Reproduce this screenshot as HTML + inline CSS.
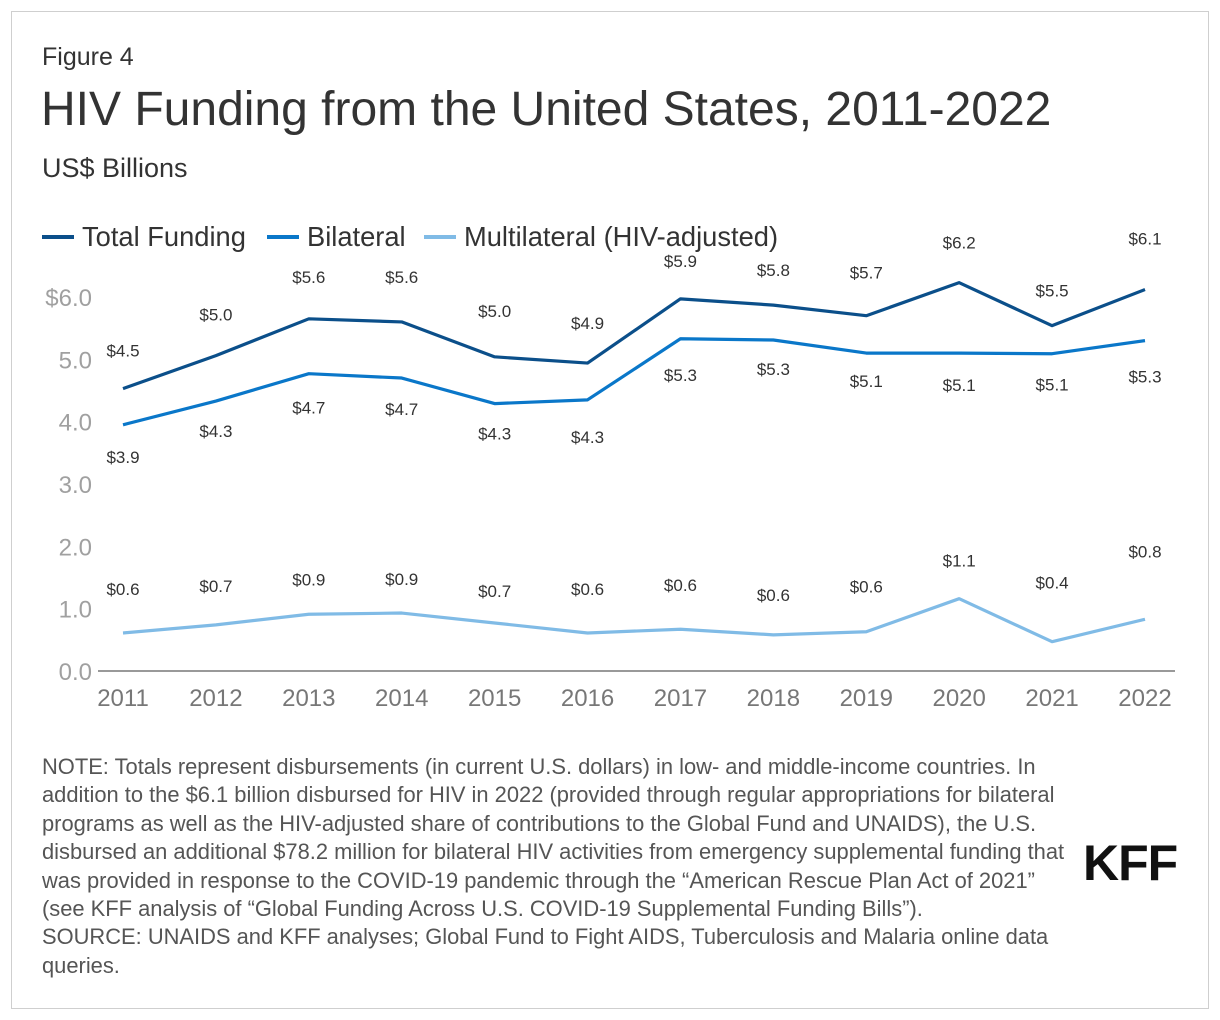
<!DOCTYPE html>
<html><head><meta charset="utf-8"><style>
body{margin:0;background:#fff;font-family:"Liberation Sans",Arial,sans-serif;}
#frame{position:absolute;left:11px;top:11px;width:1196px;height:996px;border:1px solid #cfcfcf;}
.t{position:absolute;color:#333;white-space:nowrap;}
</style></head><body>
<div id="frame"></div>
<div class="t" style="left:42px;top:43px;font-size:25px;">Figure 4</div>
<div class="t" style="left:41px;top:82px;font-size:48px;">HIV Funding from the United States, 2011-2022</div>
<div class="t" style="left:42px;top:153px;font-size:27px;">US$ Billions</div>
<svg id="chart" width="1220" height="1020" style="position:absolute;left:0;top:0"></svg>
<div class="t" style="left:42px;top:753px;font-size:21.9px;line-height:28.4px;color:#555;">NOTE: Totals represent disbursements (in current U.S. dollars) in low- and middle-income countries. In<br>addition to the $6.1 billion disbursed for HIV in 2022 (provided through regular appropriations for bilateral<br>programs as well as the HIV-adjusted share of contributions to the Global Fund and UNAIDS), the U.S.<br>disbursed an additional $78.2 million for bilateral HIV activities from emergency supplemental funding that<br>was provided in response to the COVID-19 pandemic through the “American Rescue Plan Act of 2021”<br>(see KFF analysis of “Global Funding Across U.S. COVID-19 Supplemental Funding Bills”).<br>SOURCE: UNAIDS and KFF analyses; Global Fund to Fight AIDS, Tuberculosis and Malaria online data<br>queries.</div>
<div class="t" style="left:1083px;top:834px;font-size:50px;font-weight:900;color:#111;letter-spacing:-1px;">KFF</div>
<script>
const years=[2011,2012,2013,2014,2015,2016,2017,2018,2019,2020,2021,2022];
const total=[4.53,5.06,5.65,5.6,5.04,4.94,5.97,5.87,5.7,6.23,5.54,6.12];
const bilateral=[3.95,4.33,4.77,4.7,4.29,4.35,5.33,5.31,5.1,5.1,5.09,5.3];
const multilateral=[0.61,0.74,0.91,0.93,0.77,0.61,0.67,0.58,0.63,1.16,0.47,0.83];
const totalLabels=["$4.5","$5.0","$5.6","$5.6","$5.0","$4.9","$5.9","$5.8","$5.7","$6.2","$5.5","$6.1"];
const bilateralLabels=["$3.9","$4.3","$4.7","$4.7","$4.3","$4.3","$5.3","$5.3","$5.1","$5.1","$5.1","$5.3"];
const multiLabels=["$0.6","$0.7","$0.9","$0.9","$0.7","$0.6","$0.6","$0.6","$0.6","$1.1","$0.4","$0.8"];
const yTicks=[0,1,2,3,4,5,6];
const yTickLabels=["0.0","1.0","2.0","3.0","4.0","5.0","$6.0"];
const totalDy=[-38,-41,-42,-45,-46,-40,-38,-35,-43,-40,-35,-51];
const bilDy=[32,30,34,31,30,37,36,29,28,32,31,36];
const multiDy=[-44,-39,-35,-34,-32,-44,-44,-40,-45,-38,-59,-68];
const svg=document.getElementById('chart');const NS='http://www.w3.org/2000/svg';
const x=i=>123+i*(1145-123)/(years.length-1);
const y=v=>671-v*(671-297)/6;
function mk(t,a,txt){const e=document.createElementNS(NS,t);for(const k in a)e.setAttribute(k,a[k]);if(txt!==undefined)e.textContent=txt;svg.appendChild(e);return e;}
const ax=mk('line',{x1:98,x2:1175,y1:671,y2:671,stroke:'#333','stroke-width':1});


yTicks.forEach((v,i)=>{const e=mk('text',{x:92,y:y(v)+9,'text-anchor':'end','font-size':24,fill:'#a0a0a0'},yTickLabels[i]);

});
years.forEach((yr,i)=>{const e=mk('text',{x:x(i),y:706,'text-anchor':'middle','font-size':24,fill:'#777'},yr);

});
function series(vals,labels,dys,color,name){
const p=mk('polyline',{points:vals.map((v,i)=>x(i)+','+y(v)).join(' '),fill:'none',stroke:color,'stroke-width':3.2,'stroke-linejoin':'round'});


vals.forEach((v,i)=>{const t=mk('text',{x:x(i),y:y(v)+dys[i]+6,'text-anchor':'middle','font-size':17,fill:'#333'},labels[i]);

});}
series(total,totalLabels,totalDy,'#0b4f8a','total-funding');
series(bilateral,bilateralLabels,bilDy,'#0a77c9','bilateral');
series(multilateral,multiLabels,multiDy,'#80bbe6','multilateral');
const leg=[['Total Funding','#0b4f8a',42],['Bilateral','#0a77c9',267],['Multilateral (HIV-adjusted)','#80bbe6',424]];
leg.forEach(l=>{const ln=mk('line',{x1:l[2],x2:l[2]+32,y1:237,y2:237,stroke:l[1],'stroke-width':4});


const t=mk('text',{x:l[2]+40,y:246,'font-size':27.3,fill:'#333'},l[0]);

});
</script>
</body></html>
